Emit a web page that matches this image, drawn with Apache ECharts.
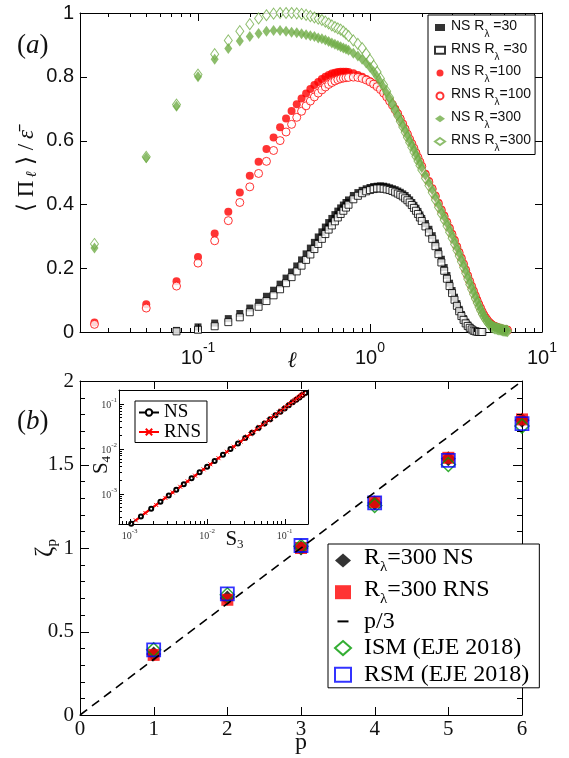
<!DOCTYPE html>
<html>
<head>
<meta charset="utf-8">
<title>Flux and scaling exponents</title>
<script src="https://cdn.jsdelivr.net/npm/echarts@6.0.0/dist/echarts.min.js"></script>
<style>
  html, body { margin: 0; padding: 0; background: #fff; }
  #chart { width: 569px; height: 758px; }
</style>
</head>
<body>
<div id="chart"></div>
<script>
const SANS = 'Liberation Sans, Arial, sans-serif'
const SERIF = 'Liberation Serif, Times New Roman, serif'
const GREEN = '#70ad47'
const RED = '#ff0000'

// ---- panel (a): normalised flux vs scale
const ell = [0.025,0.05,0.075,0.1,0.125,0.15,0.175,0.2,0.225,0.25,0.275,0.3,0.325,0.35,0.375,0.4,0.425,0.45,0.475,0.5,0.525,0.55,0.575,0.6,0.625,0.65,0.675,0.7,0.725,0.75,
  0.8,0.85,0.9,0.95,1.0,1.05,1.1,1.15,1.2,1.25,1.3,1.35,1.4,1.45,1.5,1.55,1.6,1.65,1.7,1.75,1.8,1.85,1.9,1.95,2.0,
  2.1,2.2,2.3,2.4,2.5,2.6,2.7,2.8,2.9,3.0,3.1,3.2,3.3,3.4,3.5,3.6,3.7,3.8,3.9,4.0,4.1,4.2,4.3,4.4,4.5,4.6,4.7,4.8,4.9,5.0,5.1,5.2,5.3,5.4,5.5,5.6,5.7,5.8,5.9,6.0,6.1,6.2,6.3]

const ns30 = [null,null,0.005,0.016,0.028,0.042,0.058,0.075,0.093,0.112,0.131,0.15,0.169,0.188,0.207,0.226,0.245,0.263,0.281,0.298,0.314,0.329,0.343,0.356,0.368,0.379,0.389,0.398,0.406,0.414,
  0.428,0.437,0.444,0.449,0.453,0.456,0.457,0.458,0.457,0.455,0.452,0.449,0.446,0.442,0.438,0.433,0.428,0.421,0.414,0.406,0.397,0.388,0.378,0.367,0.356,
  0.34,0.322,0.302,0.279,0.254,0.228,0.202,0.177,0.153,0.13,0.109,0.089,0.071,0.055,0.042,0.031,0.022,0.015,0.009,0.005,0.002,0.001,0,0,0]
const rns30 = [null,null,0.002,0.007,0.018,0.031,0.046,0.062,0.079,0.097,0.115,0.134,0.153,0.172,0.19,0.208,0.226,0.243,0.26,0.276,0.292,0.307,0.321,0.334,0.347,0.359,0.37,0.38,0.39,0.399,
  0.416,0.427,0.435,0.441,0.445,0.448,0.45,0.45,0.449,0.447,0.445,0.442,0.438,0.434,0.43,0.425,0.419,0.413,0.406,0.398,0.389,0.38,0.37,0.359,0.348,
  0.331,0.312,0.292,0.269,0.244,0.218,0.192,0.167,0.144,0.122,0.101,0.082,0.065,0.05,0.038,0.027,0.019,0.013,0.008,0.004,0.002,0.001,0,0,0]
const ns100 = [0.03,0.087,0.159,0.235,0.309,0.377,0.437,0.49,0.534,0.574,0.61,0.642,0.669,0.693,0.714,0.732,0.748,0.762,0.774,0.784,0.793,0.8,0.806,0.81,0.813,0.815,0.816,0.816,0.816,0.815,
  0.811,0.806,0.8,0.793,0.786,0.779,0.772,0.763,0.752,0.74,0.727,0.714,0.7,0.686,0.669,0.653,0.637,0.621,0.605,0.591,0.577,0.562,0.548,0.534,0.52,
  0.496,0.473,0.451,0.428,0.405,0.384,0.365,0.346,0.327,0.308,0.289,0.269,0.251,0.233,0.215,0.196,0.178,0.161,0.145,0.13,0.115,0.101,0.088,0.076,
  0.064,0.054,0.046,0.039,0.033,0.028,0.024,0.021,0.019,0.017,0.015,0.014,0.012,0.011,0.01,0.009,0.008,0.008,0.007]
const rns100 = [0.024,0.075,0.144,0.216,0.286,0.349,0.406,0.455,0.497,0.535,0.569,0.6,0.627,0.651,0.673,0.692,0.709,0.724,0.737,0.749,0.759,0.768,0.776,0.782,0.787,0.791,0.794,0.796,0.797,0.798,
  0.799,0.798,0.795,0.79,0.784,0.777,0.769,0.76,0.749,0.737,0.724,0.711,0.697,0.683,0.668,0.652,0.636,0.62,0.604,0.59,0.576,0.561,0.547,0.533,0.519,
  0.493,0.47,0.448,0.425,0.402,0.381,0.362,0.343,0.324,0.305,0.286,0.266,0.248,0.23,0.212,0.193,0.175,0.158,0.142,0.127,0.112,0.098,0.085,0.073,
  0.062,0.052,0.044,0.037,0.031,0.026,0.022,0.019,0.017,0.015,0.013,0.012,0.01,0.009,0.008,0.007,0.006,0.006,0.005]
const ns300 = [0.263,0.546,0.708,0.8,0.855,0.889,0.912,0.926,0.936,0.943,0.945,0.945,0.943,0.94,0.938,0.935,0.932,0.929,0.926,0.922,0.919,0.915,0.911,0.906,0.902,0.898,0.894,0.89,0.887,0.883,
  0.874,0.865,0.855,0.843,0.83,0.816,0.8,0.784,0.767,0.749,0.731,0.715,0.698,0.681,0.665,0.649,0.633,0.617,0.601,0.587,0.573,0.558,0.544,0.53,0.516,
  0.492,0.469,0.447,0.424,0.401,0.38,0.361,0.342,0.323,0.304,0.285,0.265,0.247,0.229,0.211,0.192,0.174,0.157,0.141,0.126,0.111,0.097,0.084,0.072,
  0.061,0.051,0.043,0.036,0.03,0.025,0.021,0.018,0.016,0.014,0.012,0.011,0.009,0.008,0.007,0.006,0.005,0.005,0.004]
const rns300 = [0.276,0.549,0.713,0.807,0.871,0.914,0.943,0.965,0.983,0.993,0.998,1.0,1.0,1.0,0.999,0.997,0.994,0.99,0.986,0.982,0.978,0.973,0.967,0.961,0.956,0.952,0.948,0.942,0.935,0.928,
  0.914,0.903,0.89,0.872,0.853,0.834,0.815,0.795,0.775,0.755,0.735,0.715,0.696,0.678,0.66,0.643,0.626,0.61,0.594,0.579,0.564,0.55,0.536,0.522,0.508,
  0.482,0.459,0.437,0.414,0.391,0.37,0.351,0.332,0.313,0.294,0.275,0.256,0.238,0.22,0.202,0.184,0.166,0.149,0.133,0.118,0.104,0.091,0.078,0.067,
  0.056,0.047,0.039,0.032,0.026,0.021,0.017,0.014,0.012,0.011,0.01,0.009,0.008,0.007,0.006,0.005,0.004,0.004,0.003]

// tick positions, panel (a)
const majorEll = [0.1, 1]
const minorEll = [0.03,0.04,0.05,0.06,0.07,0.08,0.09,0.2,0.3,0.4,0.5,0.6,0.7,0.8,0.9,2,3,4,5,6,7,8,9]
const majorFlux = [0.2, 0.4, 0.6, 0.8]

// ---- panel (b): scaling exponents
const pVals = [1, 2, 3, 4, 5, 6]
const zetaNS = [0.365, 0.70, 1.0, 1.27, 1.535, 1.765]
const zetaRNS = [0.36, 0.69, 1.0, 1.275, 1.54, 1.77]
const zetaISM = [0.39, 0.72, 1.01, 1.255, 1.50, 1.73]
const zetaRSM = [0.39, 0.725, 1.015, 1.27, 1.525, 1.745]
const kolmP = [0, 6]
const kolmZeta = [0, 2]
// tick positions, panel (b)
const pTicks = [1, 2, 3, 4, 5]
const zetaMajor = [0.5, 1, 1.5]
const zetaMinor = [0.1,0.2,0.3,0.4,0.6,0.7,0.8,0.9,1.1,1.2,1.3,1.4,1.6,1.7,1.8,1.9]

// ---- inset: S4 against S3
const s3NS = [0.00105,0.0014,0.0019,0.0025,0.0032,0.004,0.005,0.0063,0.008,0.01,0.0125,0.016,0.02,0.025,0.031,0.038,0.046,0.055,0.065,0.076,0.088,0.1,0.113,0.127,0.141,0.155,0.17,0.185]
const s4NS = [0.000214,0.00031,0.000461,0.000658,0.000905,0.00121,0.00161,0.00218,0.00296,0.00395,0.00528,0.00727,0.0097,0.01294,0.0171,0.0223,0.0285,0.0359,0.0446,0.0546,0.0659,0.0778,0.0912,0.1062,0.1213,0.137,0.1545,0.1726]
const s3RNS = [0.0012,0.0016,0.0022,0.0029,0.0036,0.0045,0.0056,0.007,0.009,0.011,0.014,0.018,0.022,0.027,0.03,0.033,0.036,0.04,0.044,0.048,
  0.052,0.057,0.062,0.067,0.072,0.078,0.084,0.09,0.096,0.102,0.108,0.115,0.121,0.128,0.134,0.14,0.146,0.152,0.158,0.163,0.169,0.175]
const s4RNS = [0.000254,0.000369,0.000557,0.000796,0.001054,0.00141,0.00187,0.00249,0.00345,0.00447,0.00611,0.00846,0.01096,0.0143,0.01637,0.0186,0.02075,0.0238,0.02685,0.0304,
  0.0338,0.038,0.0423,0.0472,0.0516,0.0578,0.0633,0.0699,0.0757,0.0826,0.0885,0.0967,0.1028,0.1113,0.1178,0.1253,0.1312,0.1398,0.146,0.153,0.1589,0.168]
// tick positions, inset
const insetMajor = [0.001, 0.01, 0.1]
const minorS3 = [0.0008,0.0009,0.002,0.003,0.004,0.005,0.006,0.007,0.008,0.009,0.02,0.03,0.04,0.05,0.06,0.07,0.08,0.09]
const minorS4 = [0.0003,0.0004,0.0005,0.0006,0.0007,0.0008,0.0009,0.002,0.003,0.004,0.005,0.006,0.007,0.008,0.009,0.02,0.03,0.04,0.05,0.06,0.07,0.08,0.09,0.2]

const ELLMIN = 0.0206, ELLMAX = 10
const S3MIN = 0.00073, S3MAX = 0.2, S4MIN = 0.00021, S4MAX = 0.2

function pairs(xs, ys) {
  const out = []
  xs.forEach((x, i) => { if (ys[i] != null) out.push([x, ys[i]]) })
  return out
}

function powLabel(v) {
  const e = Math.log10(v)
  const r = Math.round(e)
  if (Math.abs(e - r) > 1e-6) return ''
  return '{b|10}{e|' + r + '}'
}

const black = { color: '#000', width: 1 }
const lineOn = { show: true, onZero: false, lineStyle: black }
const noTick = { show: false }

// tick marks drawn from the axis edge inwards, placed through the axis scales
function ticks(xi, yi, pts, dx, dy) {
  return {
    type: 'custom', xAxisIndex: xi, yAxisIndex: yi, silent: true, clip: false, z: 5,
    data: pts,
    renderItem: function (params, api) {
      const p = api.coord([api.value(0), api.value(1)])
      const x = dx === 0 ? Math.round(p[0]) + 0.5 : Math.round(p[0])
      const y = dy === 0 ? Math.round(p[1]) + 0.5 : Math.round(p[1])
      return { type: 'line', shape: { x1: x, y1: y, x2: x + dx, y2: y + dy }, style: { stroke: '#000', lineWidth: 1 } }
    }
  }
}

function flux(name, ys, symbol, size, color, open) {
  return {
    name: name, type: 'scatter', xAxisIndex: 0, yAxisIndex: 0, clip: false,
    data: pairs(ell, ys), symbol: symbol, symbolSize: size,
    itemStyle: open ? { color: '#fff', borderColor: color, borderWidth: 1 } : { color: color },
    emphasis: { disabled: true }
  }
}

function zeta(name, ys, symbol, size, itemStyle) {
  return {
    name: name, type: 'scatter', xAxisIndex: 2, yAxisIndex: 2, clip: false,
    data: pairs(pVals, ys), symbol: symbol, symbolSize: size, itemStyle: itemStyle,
    emphasis: { disabled: true }
  }
}

const legendA = {
  'NS R30': '{t|NS R}{s|λ}{t| =30}',
  'RNS R30': '{t|RNS R}{s|λ}{t| =30}',
  'NS R100': '{t|NS R}{s|λ}{t|=100}',
  'RNS R100': '{t|RNS R}{s|λ}{t|=100}',
  'NS R300': '{t|NS R}{s|λ}{t|=300}',
  'RNS R300': '{t|RNS R}{s|λ}{t|=300}'
}
const legendB = {
  'R300 NS': '{t|R}{s|λ}{t|=300 NS}',
  'R300 RNS': '{t|R}{s|λ}{t|=300 RNS}',
  'p/3': '{t|p/3}',
  'ISM (EJE 2018)': '{t|ISM (EJE 2018)}',
  'RSM (EJE 2018)': '{t|RSM (EJE 2018)}'
}

const chart = echarts.init(document.getElementById('chart'))

const option = {
  animation: false,
  backgroundColor: '#fff',
  grid: [
    { left: 80, top: 13, width: 462, height: 319 },
    { left: 80, top: 381, width: 442, height: 334 },
    { left: 119, top: 390, width: 189, height: 134, show: true, backgroundColor: '#fff', borderWidth: 0 }
  ],
  xAxis: [
    {
      gridIndex: 0, type: 'log', min: ELLMIN, max: ELLMAX, position: 'bottom',
      axisLine: lineOn, axisTick: noTick, minorTick: noTick, splitLine: { show: false },
      axisLabel: {
        margin: 9, showMinLabel: false, formatter: powLabel,
        rich: {
          b: { fontFamily: SANS, fontSize: 20, lineHeight: 20, verticalAlign: 'bottom', color: '#111' },
          e: { fontFamily: SANS, fontSize: 14, lineHeight: 27, verticalAlign: 'top', color: '#111' }
        }
      },
      name: '{l|ℓ}', nameLocation: 'middle', nameGap: 18, nameMoveOverlap: false,
      nameTextStyle: { padding: [0, 38, 0, 0], rich: { l: { fontFamily: SERIF, fontSize: 22, fontStyle: 'italic', color: '#111' } } }
    },
    {
      gridIndex: 0, type: 'log', min: ELLMIN, max: ELLMAX, position: 'top',
      axisLine: lineOn, axisTick: noTick, minorTick: noTick,
      axisLabel: { show: false }, splitLine: { show: false }
    },
    {
      gridIndex: 1, type: 'value', min: 0, max: 6, interval: 1, position: 'bottom',
      axisLine: lineOn, axisTick: noTick, minorTick: noTick, splitLine: { show: false },
      axisLabel: { margin: 4, fontFamily: SERIF, fontSize: 21, color: '#111' },
      name: 'p', nameLocation: 'middle', nameGap: 16, nameMoveOverlap: false,
      nameTextStyle: { fontFamily: SERIF, fontSize: 24, color: '#111' }
    },
    {
      gridIndex: 1, type: 'value', min: 0, max: 6, interval: 1, position: 'top',
      axisLine: lineOn, axisTick: noTick, minorTick: noTick,
      axisLabel: { show: false }, splitLine: { show: false }
    },
    {
      gridIndex: 2, type: 'log', min: S3MIN, max: S3MAX, position: 'bottom',
      axisLine: lineOn, axisTick: noTick, minorTick: noTick, splitLine: { show: false },
      axisLabel: {
        margin: 4, showMinLabel: false, showMaxLabel: false, formatter: powLabel,
        rich: {
          b: { fontFamily: SERIF, fontSize: 10, lineHeight: 10, verticalAlign: 'bottom', color: '#333' },
          e: { fontFamily: SERIF, fontSize: 7, lineHeight: 13, verticalAlign: 'top', color: '#333' }
        }
      },
      name: '{s|S}{b|3}', nameLocation: 'middle', nameGap: 5, nameMoveOverlap: false,
      nameTextStyle: {
        padding: [0, 0, 0, 42],
        rich: {
          s: { fontFamily: SERIF, fontSize: 21, verticalAlign: 'top', color: '#111' },
          b: { fontFamily: SERIF, fontSize: 13, verticalAlign: 'top', padding: [9, 0, 0, 0], color: '#111' }
        }
      }
    },
    {
      gridIndex: 2, type: 'log', min: S3MIN, max: S3MAX, position: 'top',
      axisLine: lineOn, axisTick: noTick, minorTick: noTick,
      axisLabel: { show: false }, splitLine: { show: false }
    }
  ],
  yAxis: [
    {
      gridIndex: 0, type: 'value', min: 0, max: 1, interval: 0.2, position: 'left',
      axisLine: lineOn, axisTick: noTick, minorTick: noTick, splitLine: { show: false },
      axisLabel: { margin: 6, fontFamily: SANS, fontSize: 20, color: '#111' },
      name: '{a|⟨}{a|Π}{s|ℓ}{a|⟩}{a|/}{e|ε̄}', nameLocation: 'middle', nameGap: 40, nameRotate: 90, nameMoveOverlap: false,
      nameTextStyle: {
        rich: {
          a: { fontFamily: SERIF, fontSize: 23, verticalAlign: 'top', color: '#111', padding: [0, 3, 0, 3] },
          s: { fontFamily: SERIF, fontSize: 15, fontStyle: 'italic', verticalAlign: 'top', padding: [10, 3, 0, 0], color: '#111' },
          e: { fontFamily: SERIF, fontSize: 23, fontStyle: 'italic', verticalAlign: 'top', color: '#111', padding: [0, 0, 0, 2] }
        }
      }
    },
    {
      gridIndex: 0, type: 'value', min: 0, max: 1, interval: 0.2, position: 'right',
      axisLine: lineOn, axisTick: noTick, minorTick: noTick,
      axisLabel: { show: false }, splitLine: { show: false }
    },
    {
      gridIndex: 1, type: 'value', min: 0, max: 2, interval: 0.5, position: 'left',
      axisLine: lineOn, axisTick: noTick, minorTick: noTick,
      splitLine: { show: false }, minorSplitLine: { show: false },
      axisLabel: { margin: 6, fontFamily: SERIF, fontSize: 21, color: '#111' },
      name: '{z|ζ}{p|p}', nameLocation: 'middle', nameGap: 20, nameRotate: 90, nameMoveOverlap: false,
      nameTextStyle: {
        rich: {
          z: { fontFamily: SERIF, fontSize: 25, verticalAlign: 'top', color: '#111' },
          p: { fontFamily: SERIF, fontSize: 15, verticalAlign: 'top', padding: [12, 0, 0, 0], color: '#111' }
        }
      }
    },
    {
      gridIndex: 1, type: 'value', min: 0, max: 2, interval: 0.5, position: 'right',
      axisLine: lineOn, axisTick: noTick, minorTick: noTick,
      axisLabel: { show: false }, splitLine: { show: false }, minorSplitLine: { show: false }
    },
    {
      gridIndex: 2, type: 'log', min: S4MIN, max: S4MAX, position: 'left',
      axisLine: lineOn, axisTick: noTick, minorTick: noTick, splitLine: { show: false },
      axisLabel: {
        margin: 2, showMinLabel: false, showMaxLabel: false, formatter: powLabel,
        rich: {
          b: { fontFamily: SERIF, fontSize: 10, lineHeight: 10, verticalAlign: 'bottom', color: '#333' },
          e: { fontFamily: SERIF, fontSize: 7, lineHeight: 13, verticalAlign: 'top', color: '#333' }
        }
      },
      name: '{s|S}{b|4}', nameLocation: 'middle', nameGap: 6, nameRotate: 90, nameMoveOverlap: false,
      nameTextStyle: {
        padding: [0, 16, 0, 0],
        rich: {
          s: { fontFamily: SERIF, fontSize: 21, verticalAlign: 'top', color: '#111' },
          b: { fontFamily: SERIF, fontSize: 13, verticalAlign: 'top', padding: [9, 0, 0, 0], color: '#111' }
        }
      }
    },
    {
      gridIndex: 2, type: 'log', min: S4MIN, max: S4MAX, position: 'right',
      axisLine: lineOn, axisTick: noTick, minorTick: noTick,
      axisLabel: { show: false }, splitLine: { show: false }
    }
  ],
  legend: [
    {
      data: ['NS R30', 'RNS R30', 'NS R100', 'RNS R100', 'NS R300', 'RNS R300'],
      orient: 'vertical', left: 428, top: 15, padding: [4, 4, 1.5, 6], itemGap: 2.8,
      itemWidth: 10, itemHeight: 7, selectedMode: false, z: 10,
      borderColor: '#000', borderWidth: 1, borderRadius: 0, backgroundColor: '#fff',
      formatter: n => legendA[n],
      textStyle: {
        padding: [0, 0, 0, 1],
        rich: {
          t: { fontFamily: SANS, fontSize: 14, verticalAlign: 'top', padding: [3, 0, 0, 0], color: '#111' },
          s: { fontFamily: SANS, fontSize: 10, verticalAlign: 'top', padding: [13, 0, 0, 0], color: '#111' }
        }
      }
    },
    {
      data: ['R300 NS', 'R300 RNS', { name: 'p/3', icon: 'path://M0,0M2.5,6h11v2h-11zM16,14' }, 'ISM (EJE 2018)', 'RSM (EJE 2018)'],
      orient: 'vertical', left: 328, top: 544, padding: [2, 10, 1, 6], itemGap: 2.7,
      itemWidth: 16, itemHeight: 14, selectedMode: false, z: 10,
      borderColor: '#000', borderWidth: 1, borderRadius: 0, backgroundColor: '#fff',
      formatter: n => legendB[n],
      textStyle: {
        padding: [0, 0, 0, 8],
        rich: {
          t: { fontFamily: SERIF, fontSize: 24, verticalAlign: 'top', color: '#000' },
          s: { fontFamily: SERIF, fontSize: 15, verticalAlign: 'top', padding: [14, 0, 0, 0], color: '#000' }
        }
      }
    },
    {
      data: ['NS', 'RNS'],
      orient: 'vertical', left: 135, top: 401, padding: [2, 6, 1, 3], itemGap: 0.5,
      itemWidth: 20, itemHeight: 8, selectedMode: false, z: 10,
      borderColor: '#000', borderWidth: 1, borderRadius: 0, backgroundColor: '#fff',
      textStyle: { fontFamily: SERIF, fontSize: 19, lineHeight: 19, color: '#000' }
    }
  ],
  graphic: [
    {
      type: 'text', left: 17, top: 32,
      style: {
        text: '{n|(}{i|a}{n|)}',
        rich: {
          n: { fontFamily: SERIF, fontSize: 27, fill: '#111' },
          i: { fontFamily: SERIF, fontSize: 27, fontStyle: 'italic', fill: '#111' }
        }
      }
    },
    {
      type: 'text', left: 17, top: 408,
      style: {
        text: '{n|(}{i|b}{n|)}',
        rich: {
          n: { fontFamily: SERIF, fontSize: 27, fill: '#111' },
          i: { fontFamily: SERIF, fontSize: 27, fontStyle: 'italic', fill: '#111' }
        }
      }
    }
  ],
  series: [
    flux('NS R30', ns30, 'rect', 7, '#000', false),
    flux('RNS R30', rns30, 'rect', 7, '#000', true),
    flux('NS R100', ns100, 'circle', 8, RED, false),
    flux('RNS R100', rns100, 'circle', 8, RED, true),
    flux('RNS R300', rns300, 'diamond', [8, 11], GREEN, true),
    flux('NS R300', ns300, 'diamond', [8, 11], GREEN, false),
    ticks(0, 0, majorEll.map(v => [v, 0]), 0, -8),
    ticks(0, 0, minorEll.map(v => [v, 0]), 0, -4),
    ticks(0, 0, majorEll.map(v => [v, 1]), 0, 8),
    ticks(0, 0, minorEll.map(v => [v, 1]), 0, 4),
    ticks(0, 0, majorFlux.map(v => [ELLMIN, v]), 7, 0),
    ticks(0, 0, majorFlux.map(v => [ELLMAX, v]), -7, 0),

    {
      name: 'p/3', type: 'line', xAxisIndex: 2, yAxisIndex: 2,
      data: pairs(kolmP, kolmZeta), showSymbol: false, symbol: 'none',
      lineStyle: { color: '#000', width: 1.6, type: [9, 6] },
      itemStyle: { color: '#000' }, emphasis: { disabled: true }
    },
    zeta('R300 NS', zetaNS, 'diamond', 15, { color: '#000' }),
    zeta('R300 RNS', zetaRNS, 'rect', 12, { color: RED }),
    zeta('ISM (EJE 2018)', zetaISM, 'diamond', 14, { color: 'rgba(0,0,0,0)', borderColor: '#009a00', borderWidth: 1.5 }),
    zeta('RSM (EJE 2018)', zetaRSM, 'rect', 13, { color: 'rgba(0,0,0,0)', borderColor: '#0000ff', borderWidth: 1.8 }),
    ticks(2, 2, pTicks.map(v => [v, 0]), 0, -8),
    ticks(2, 2, pTicks.map(v => [v, 2]), 0, 8),
    ticks(2, 2, zetaMajor.map(v => [0, v]), 9, 0),
    ticks(2, 2, zetaMinor.map(v => [0, v]), 5, 0),
    ticks(2, 2, zetaMajor.map(v => [6, v]), -9, 0),
    ticks(2, 2, zetaMinor.map(v => [6, v]), -5, 0),

    {
      name: 'NS', type: 'line', xAxisIndex: 4, yAxisIndex: 4,
      data: pairs(s3NS, s4NS), symbol: 'emptyCircle', symbolSize: 4, showAllSymbol: true,
      lineStyle: { color: '#000', width: 1.5 }, itemStyle: { color: '#000' }, emphasis: { disabled: true }
    },
    {
      name: 'RNS', type: 'line', xAxisIndex: 4, yAxisIndex: 4,
      data: pairs(s3RNS, s4RNS), symbol: 'path://M0,0L10,10M10,0L0,10', symbolSize: 4, showAllSymbol: true,
      lineStyle: { color: RED, width: 2.2 }, itemStyle: { color: RED, borderColor: RED, borderWidth: 1 }, emphasis: { disabled: true }
    },
    ticks(4, 4, insetMajor.map(v => [v, S4MIN]), 0, -5),
    ticks(4, 4, minorS3.map(v => [v, S4MIN]), 0, -3),
    ticks(4, 4, insetMajor.map(v => [S3MIN, v]), 5, 0),
    ticks(4, 4, minorS4.map(v => [S3MIN, v]), 3, 0)
  ]
}

chart.setOption(option)
</script>
</body>
</html>
